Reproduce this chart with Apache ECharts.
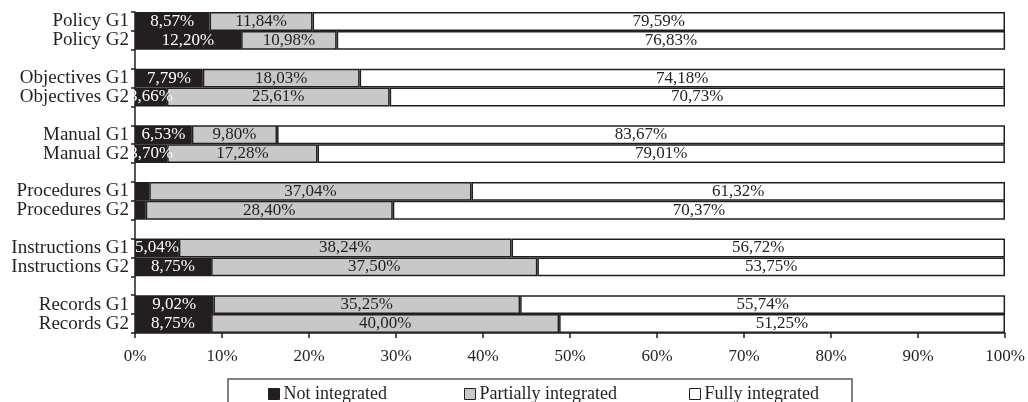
<!DOCTYPE html>
<html>
<head>
<meta charset="utf-8">
<script src="https://cdn.jsdelivr.net/npm/echarts@6/dist/echarts.min.js"></script>
<style>
  html, body { margin: 0; padding: 0; background: #ffffff; }
  #chart { width: 1028px; height: 402px; }
</style>
</head>
<body>
<div id="chart"></div>
<script>
// Categories (empty strings separate the document groups)
const categories = [
  'Policy G1', 'Policy G2', '',
  'Objectives G1', 'Objectives G2', '',
  'Manual G1', 'Manual G2', '',
  'Procedures G1', 'Procedures G2', '',
  'Instructions G1', 'Instructions G2', '',
  'Records G1', 'Records G2'
];

// Shares in percent
const notIntegrated = [8.57, 12.20, null, 7.79, 3.66, null, 6.53, 3.70, null, 1.64, 1.23, null, 5.04, 8.75, null, 9.02, 8.75];
const partiallyIntegrated = [11.84, 10.98, null, 18.03, 25.61, null, 9.80, 17.28, null, 37.04, 28.40, null, 38.24, 37.50, null, 35.25, 40.00];
const fullyIntegrated = [79.59, 76.83, null, 74.18, 70.73, null, 83.67, 79.01, null, 61.32, 70.37, null, 56.72, 53.75, null, 55.74, 51.25];

const seriesNames = ['Not integrated', 'Partially integrated', 'Fully integrated'];

const FONT = '"Liberation Serif", "Times New Roman", serif';
const INK = '#231f20';

function pct(v) {
  return v.toFixed(2).replace('.', ',') + '%';
}

function makeSeries(name, data, fill, textColor) {
  return {
    name: name,
    type: 'bar',
    stack: 'total',
    barWidth: '100%',
    data: data,
    itemStyle: { color: fill, borderColor: INK, borderWidth: 1.5 },
    label: {
      show: true,
      position: 'inside',
      color: textColor,
      fontFamily: FONT,
      fontSize: 17,
      formatter: p => (p.value == null || p.value < 2) ? '' : pct(p.value)
    },
    emphasis: { disabled: true }
  };
}

// One legend block per series so each entry can sit at its own offset
function legendAt(name, left) {
  return {
    data: [name],
    left: left,
    top: 385,
    itemWidth: 11,
    itemHeight: 11,
    itemGap: 0,
    icon: 'rect',
    padding: 0,
    textStyle: { color: INK, fontFamily: FONT, fontSize: 18, padding: [0, 0, 0, -1] },
    itemStyle: { borderColor: INK, borderWidth: 1 }
  };
}

const chart = echarts.init(document.getElementById('chart'), null, { renderer: 'canvas' });

chart.setOption({
  animation: false,
  backgroundColor: '#ffffff',
  grid: { left: 135, right: 23, top: 12, bottom: 69, containLabel: false },
  xAxis: {
    type: 'value',
    min: 0,
    max: 100,
    interval: 10,
    axisLine: { show: true, lineStyle: { color: INK, width: 1.5 } },
    axisTick: { show: true, length: 5, lineStyle: { color: INK, width: 1.5 } },
    splitLine: { show: false },
    axisLabel: {
      formatter: '{value}%',
      color: INK,
      fontFamily: FONT,
      fontSize: 17,
      margin: 15
    }
  },
  yAxis: {
    type: 'category',
    inverse: true,
    data: categories,
    axisLine: { show: true, lineStyle: { color: INK, width: 1.5 } },
    axisTick: { show: true, length: 4, interval: 0, lineStyle: { color: INK, width: 1.5 } },
    axisLabel: {
      interval: 0,
      color: INK,
      fontFamily: FONT,
      fontSize: 19,
      margin: 6
    }
  },
  legend: [
    legendAt(seriesNames[0], 268),
    legendAt(seriesNames[1], 464),
    legendAt(seriesNames[2], 689)
  ],
  graphic: [{
    type: 'rect',
    silent: true,
    z: -1,
    shape: { x: 228, y: 379, width: 624, height: 40 },
    style: { fill: 'none', stroke: '#555555', lineWidth: 1.5 }
  }],
  series: [
    makeSeries(seriesNames[0], notIntegrated, INK, '#ffffff'),
    makeSeries(seriesNames[1], partiallyIntegrated, '#c8c8c8', INK),
    makeSeries(seriesNames[2], fullyIntegrated, '#ffffff', INK)
  ]
});
</script>
</body>
</html>
